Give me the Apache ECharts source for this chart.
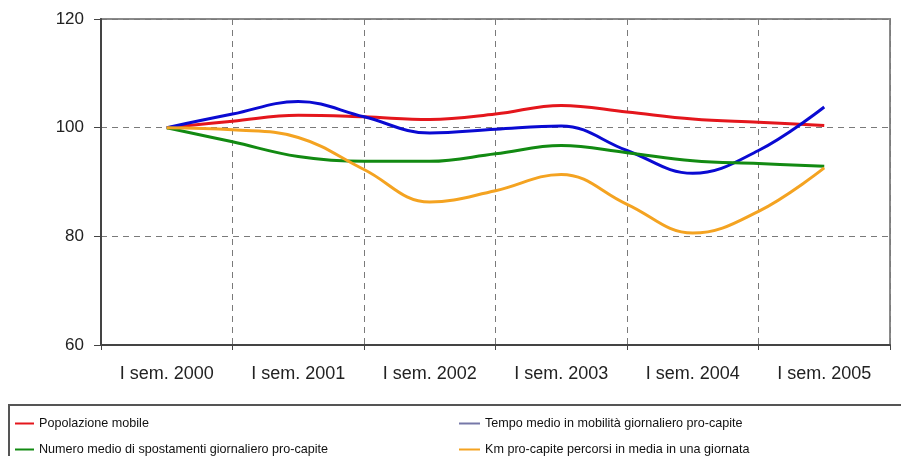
<!DOCTYPE html>
<html>
<head>
<meta charset="utf-8">
<script src="https://cdn.jsdelivr.net/npm/echarts@6/dist/echarts.min.js"></script>
<style>
  html, body { margin: 0; padding: 0; background: #fff; }
  #chart { width: 901px; height: 456px; }
</style>
</head>
<body>
<div id="chart"></div>
<script>
// Year labels shown on the category axis (first semester of each year)
const yearLabels = ['I sem. 2000', 'I sem. 2001', 'I sem. 2002', 'I sem. 2003', 'I sem. 2004', 'I sem. 2005'];

// Semester positions on the numeric axis: 0 = I sem. 2000, 0.5 = II sem. 2000, ...
const semesterPos = [0, 0.5, 1, 1.5, 2, 2.5, 3, 3.5, 4, 4.5, 5];

// Index numbers (I sem. 2000 = 100)
const popolazioneMobile = [100, 101.2, 102.3, 102.0, 101.5, 102.5, 104.1, 102.9, 101.6, 101.0, 100.4];
const tempoMedio        = [100, 102.5, 104.8, 102.0, 99.0, 99.7, 100.3, 95.8, 91.6, 95.8, 103.8];
const numeroSpostamenti = [100, 97.4, 94.7, 93.8, 93.8, 95.2, 96.7, 95.4, 93.9, 93.4, 92.9];
const kmProCapite       = [100, 99.6, 98.2, 92.3, 86.3, 88.4, 91.4, 85.9, 80.6, 84.6, 92.6];

const seriesNames = [
  'Popolazione mobile',
  'Tempo medio in mobilità giornaliero pro-capite',
  'Numero medio di spostamenti giornaliero pro-capite',
  'Km pro-capite percorsi in media in una giornata'
];
const lineColors = ['#e4161c', '#0a0ad2', '#128a12', '#f4a321'];
const legendColors = ['#e4161c', '#7678a8', '#128a12', '#f4a321'];
// legend slots: [left, top] for each series entry, two columns by two rows
const legendSlots = [[15, 417], [459, 417], [15, 443], [459, 443]];

function pairs(values) {
  return values.map((v, i) => [semesterPos[i], v]);
}

const valueSets = [popolazioneMobile, tempoMedio, numeroSpostamenti, kmProCapite];

const chart = echarts.init(document.getElementById('chart'), null, { renderer: 'canvas' });

chart.setOption({
  animation: false,
  backgroundColor: '#fff',
  grid: {
    left: 101, right: 11, top: 19, bottom: 111,
    show: true, borderColor: '#8a8a8a', borderWidth: 2, backgroundColor: 'transparent'
  },
  legend: seriesNames.map((name, i) => ({
    left: legendSlots[i][0],
    top: legendSlots[i][1],
    padding: 0,
    itemWidth: i % 2 === 0 ? 19 : 21,
    itemHeight: 2,
    icon: 'rect',
    selectedMode: false,
    textStyle: { fontFamily: 'Liberation Sans', fontSize: 12.6, color: '#111' },
    data: [{ name: name, itemStyle: { color: legendColors[i] } }]
  })),
  graphic: [{
    type: 'rect',
    shape: { x: 9, y: 405, width: 900, height: 70 },
    style: { fill: 'none', stroke: '#555', lineWidth: 2 },
    silent: true
  }],
  xAxis: [
    {
      type: 'category',
      data: yearLabels,
      boundaryGap: true,
      axisLine: { lineStyle: { color: '#444', width: 2 } },
      axisTick: { show: true, length: 5, lineStyle: { color: '#444', width: 1 } },
      axisLabel: { fontFamily: 'Liberation Sans', fontSize: 18, color: '#222', margin: 20, interval: 0 },
      splitLine: { show: true, interval: 0, lineStyle: { color: '#7a7a7a', type: [6, 5], width: 1 } }
    },
    {
      type: 'value',
      min: -0.5,
      max: 5.5,
      show: false,
      axisLine: { show: false },
      splitLine: { show: false }
    }
  ],
  yAxis: {
    type: 'value',
    min: 60,
    max: 120,
    interval: 20,
    axisLine: { show: true, onZero: false, lineStyle: { color: '#444', width: 2 } },
    axisTick: { show: true, length: 7, lineStyle: { color: '#444', width: 1 } },
    axisLabel: { fontFamily: 'Liberation Sans', fontSize: 17, color: '#222', margin: 17 },
    splitLine: { show: true, lineStyle: { color: '#7a7a7a', type: [6, 5], width: 1 } }
  },
  series: valueSets.map((vals, i) => ({
    name: seriesNames[i],
    type: 'line',
    xAxisIndex: 1,
    data: pairs(vals),
    smooth: 0.4,
    showSymbol: false,
    symbol: 'none',
    lineStyle: { color: lineColors[i], width: 3 },
    itemStyle: { color: lineColors[i] },
    z: 3
  }))
});
</script>
</body>
</html>
